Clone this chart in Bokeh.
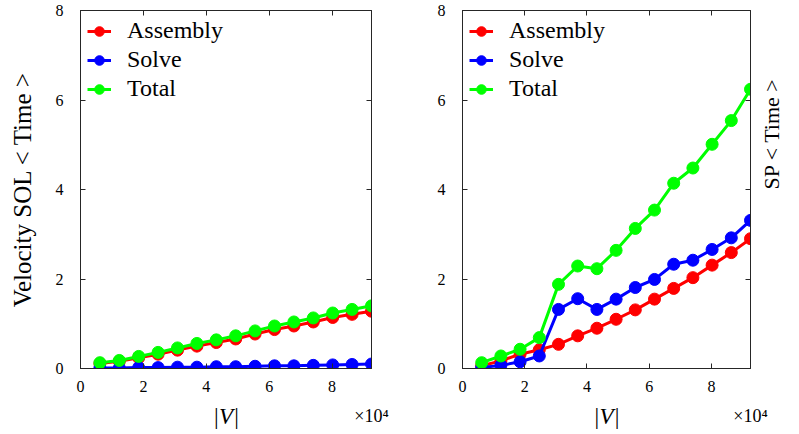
import math
from bokeh.plotting import figure
from bokeh.models import Range1d, LinearAxis, FixedTicker, Legend, LegendItem
from bokeh.layouts import row
from bokeh.embed import file_html
from bokeh.resources import INLINE

# ---- data ----
V = [6170, 12340, 18510, 24680, 30850, 37020, 43190, 49360,
     55530, 61700, 67870, 74040, 80210, 86380, 92550]

vel_assembly = [0.11, 0.16, 0.24, 0.32, 0.41, 0.50, 0.58, 0.66,
                0.77, 0.87, 0.95, 1.04, 1.14, 1.21, 1.28]
vel_solve = [0.01, 0.01, 0.02, 0.02, 0.03, 0.03, 0.04, 0.04,
             0.05, 0.06, 0.06, 0.07, 0.08, 0.09, 0.10]
vel_total = [0.13, 0.18, 0.27, 0.36, 0.46, 0.56, 0.64, 0.73,
             0.84, 0.95, 1.04, 1.13, 1.24, 1.32, 1.40]

sp_assembly = [0.06, 0.17, 0.32, 0.42, 0.54, 0.73, 0.90, 1.10,
               1.31, 1.55, 1.79, 2.03, 2.31, 2.59, 2.90]
sp_solve = [0.02, 0.07, 0.15, 0.28, 1.32, 1.56, 1.32, 1.55,
            1.81, 1.99, 2.33, 2.42, 2.66, 2.92, 3.31]
sp_total = [0.13, 0.28, 0.43, 0.69, 1.88, 2.29, 2.23, 2.64,
            3.13, 3.54, 4.14, 4.48, 5.01, 5.54, 6.24]

series_names = ["Assembly", "Solve", "Total"]
series_colors = ["#ff0000", "#0000ff", "#00ff00"]

x_ticks = [0, 20000, 40000, 60000, 80000]
x_tick_labels = ["0", "2", "4", "6", "8"]
y_ticks = [0, 2, 4, 6, 8]
y_tick_labels = ["0", "2", "4", "6", "8"]
x_multiplier_label = "\u00d710\u2074"
x_label = "|V|"

FONT = "Liberation Serif"
AX_COLOR = "#262626"


def style_axis(ax, labels=True):
    ax.axis_line_color = AX_COLOR
    ax.major_tick_line_color = AX_COLOR
    ax.major_tick_in = 5
    ax.major_tick_out = 0
    ax.minor_tick_line_color = None
    ax.major_label_text_font = FONT
    ax.major_label_text_color = "#000000"
    ax.axis_label_text_font = FONT
    ax.axis_label_text_font_style = "normal"
    ax.axis_label_text_color = "#000000"
    if labels:
        ax.major_label_text_font_size = "16px"
    else:
        ax.major_label_text_font_size = "0px"
        ax.major_label_text_color = None
        ax.major_label_standoff = 0


def make_fig(ys, width, left, right, ylabel_left, ylabel_right):
    p = figure(width=width, height=434, output_backend="svg", toolbar_location=None,
               x_range=Range1d(0, max(V)), y_range=Range1d(0, 8),
               min_border_left=left, min_border_right=right,
               min_border_top=10, min_border_bottom=66)
    p.xgrid.visible = False
    p.ygrid.visible = False
    p.outline_line_color = AX_COLOR
    p.background_fill_color = "white"
    p.border_fill_color = "white"

    xo = {t: l for t, l in zip(x_ticks, x_tick_labels)}
    yo = {t: l for t, l in zip(y_ticks, y_tick_labels)}

    xa = p.xaxis[0]
    xa.ticker = FixedTicker(ticks=x_ticks)
    xa.major_label_overrides = xo
    style_axis(xa)
    xa.major_label_standoff = 12

    # second row below: multiplier text (x10^4) at the right end and |V| label
    mult = LinearAxis(ticker=FixedTicker(ticks=[max(V)]))
    mult.major_label_overrides = {max(V): x_multiplier_label}
    mult.axis_line_color = None
    mult.major_tick_line_color = None
    mult.minor_tick_line_color = None
    mult.major_tick_in = 0
    mult.major_tick_out = 0
    mult.major_label_text_font = FONT
    mult.major_label_text_font_size = "18px"
    mult.major_label_text_color = "#000000"
    mult.major_label_standoff = 11
    mult.axis_label = x_label
    mult.axis_label_text_font = FONT
    mult.axis_label_text_font_style = "italic"
    mult.axis_label_text_font_size = "23px"
    mult.axis_label_text_color = "#000000"
    mult.axis_label_standoff = -25
    p.add_layout(mult, "below")

    ya = p.yaxis[0]
    ya.ticker = FixedTicker(ticks=y_ticks)
    ya.major_label_overrides = yo
    style_axis(ya)
    ya.major_label_standoff = 17
    if ylabel_left:
        ya.axis_label = ylabel_left
        ya.axis_label_text_font_size = "25px"
        ya.axis_label_standoff = 17

    top = LinearAxis(ticker=FixedTicker(ticks=x_ticks))
    style_axis(top, labels=False)
    p.add_layout(top, "above")
    rt = LinearAxis(ticker=FixedTicker(ticks=y_ticks))
    style_axis(rt, labels=False)
    if ylabel_right:
        rt.axis_label = ylabel_right
        rt.axis_label_text_font_size = "22px"
        rt.axis_label_standoff = 21
        if "axis_label_orientation" in rt.properties():
            rt.axis_label_orientation = math.pi / 2
    p.add_layout(rt, "right")

    items = []
    for name, col, y in zip(series_names, series_colors, ys):
        l = p.line(V, y, line_color=col, line_width=3)
        s = p.scatter(V, y, size=12, fill_color=col, line_color=col)
        items.append(LegendItem(label=name, renderers=[l, s]))
    leg = Legend(items=items, location="top_left")
    leg.background_fill_alpha = 0
    leg.border_line_alpha = 0
    leg.margin = 0
    leg.padding = 7
    leg.glyph_width = 24
    leg.glyph_height = 26
    leg.label_height = 26
    leg.spacing = 2
    leg.label_standoff = 16
    leg.label_text_font = FONT
    leg.label_text_font_size = "24px"
    leg.label_text_color = "#000000"
    p.add_layout(leg)
    return p


p1 = make_fig([vel_assembly, vel_solve, vel_total], 420, 80, 49,
              "Velocity SOL < Time >", None)
p2 = make_fig([sp_assembly, sp_solve, sp_total], 379, 42, 46, None,
              "SP < Time >")

layout = row(p1, p2)
open("out.html", "w").write(file_html(layout, INLINE))
